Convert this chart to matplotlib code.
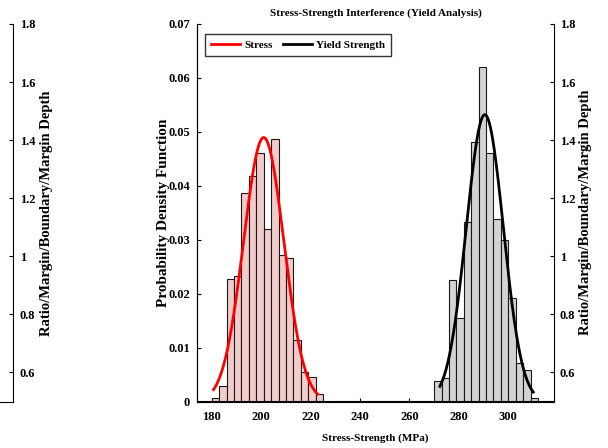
import matplotlib
matplotlib.use("Agg")
import matplotlib.pyplot as plt
import numpy as np

# ── Data ───────────────────────────────────────────────────────────────────
stress_edges = [180, 183, 186, 189, 192, 195, 198, 201, 204, 207, 210, 213, 216, 219, 222, 225]
stress_dens  = [0.0007, 0.0028, 0.0227, 0.0233, 0.0386, 0.0418, 0.0460, 0.0319,
                0.0486, 0.0272, 0.0266, 0.0114, 0.0054, 0.0046, 0.0013]

yield_edges = [270, 273, 276, 279, 282, 285, 288, 291, 294, 297, 300, 303, 306, 309, 312]
yield_dens  = [0.0038, 0.0043, 0.0226, 0.0154, 0.0333, 0.0481, 0.0620,
               0.0461, 0.0339, 0.0299, 0.0192, 0.0071, 0.0059, 0.0006]

# normal fits (mean, std, plotted range)
stress_mu, stress_sd, stress_rng = 201.0, 8.15, (180.7, 222.8)
yield_mu, yield_sd, yield_rng    = 290.5, 7.5, (272.3, 310.1)

x_ticks   = [180, 200, 220, 240, 260, 280, 300]
pdf_ticks = [0, 0.01, 0.02, 0.03, 0.04, 0.05, 0.06, 0.07]
aux_ticks = [0.6, 0.8, 1.0, 1.2, 1.4, 1.6, 1.8]
aux_labels = ["0.6", "0.8", "1", "1.2", "1.4", "1.6", "1.8"]

# ── Style ──────────────────────────────────────────────────────────────────
plt.rcParams["font.family"] = "Liberation Serif"
plt.rcParams["font.weight"] = "bold"
plt.rcParams["axes.titleweight"] = "bold"
plt.rcParams["axes.labelweight"] = "bold"
PINK = "#f2cbcb"
GRAY = "#d3d3d3"
EDGE = "#1a1a1a"
FS_T = 9      # tick labels
FS_H = 8      # horizontal text
FS_V = 11     # rotated labels

fig = plt.figure(figsize=(6.08, 4.48), dpi=100)

L, B, W, H = 197 / 608, 1 - 401.5 / 448, (554 - 197) / 608, (401.5 - 24) / 448
ax = fig.add_axes([L, B, W, H])


def pdf(mu, sd, rng):
    xs = np.linspace(rng[0], rng[1], 300)
    return xs, np.exp(-0.5 * ((xs - mu) / sd) ** 2) / (sd * np.sqrt(2 * np.pi))


ax.bar(stress_edges[:-1], stress_dens, width=np.diff(stress_edges), align="edge",
       color=PINK, edgecolor=EDGE, linewidth=0.8, zorder=2)
ax.bar(yield_edges[:-1], yield_dens, width=np.diff(yield_edges), align="edge",
       color=GRAY, edgecolor=EDGE, linewidth=0.8, zorder=2)

sx, sy = pdf(stress_mu, stress_sd, stress_rng)
yx, yy = pdf(yield_mu, yield_sd, yield_rng)
ax.plot(sx, sy, color="red", linewidth=2, label="Stress", zorder=3)
ax.plot(yx, yy, color="black", linewidth=2, label="Yield Strength", zorder=3)

ax.set_xlim(174, 318.5)
ax.set_ylim(0, 0.07)
ax.set_xticks(x_ticks)
ax.set_xticklabels([str(v) for v in x_ticks], fontsize=FS_T)
ax.set_yticks(pdf_ticks)
ax.set_yticklabels(["0"] + [f"{v:.2f}" for v in pdf_ticks[1:]], fontsize=FS_T)
ax.tick_params(direction="in", length=3, width=0.8)
ax.tick_params(axis="x", pad=7)
ax.tick_params(axis="y", pad=5)
ax.spines["top"].set_visible(False)
ax.spines["right"].set_visible(False)
ax.set_xlabel("Stress-Strength (MPa)", fontsize=FS_H, labelpad=7)
ax.set_ylabel("Probability Density Function", fontsize=FS_V, labelpad=-1)
ax.set_title("Stress-Strength Interference (Yield Analysis)", fontsize=FS_H, pad=6)

ax.legend(loc="upper left", bbox_to_anchor=(0.022, 0.9735), borderaxespad=0,
          ncol=2, fontsize=FS_H, frameon=True, fancybox=False, edgecolor="black",
          handlelength=2.6, columnspacing=0.9, handletextpad=0.4, borderpad=0.55)

# right auxiliary axis
axr = ax.twinx()
axr.set_ylim(0.5, 1.8)
axr.set_yticks(aux_ticks)
axr.set_yticklabels(aux_labels, fontsize=FS_T)
axr.tick_params(direction="in", length=3, width=0.8, pad=4)
axr.spines["top"].set_visible(False)
axr.set_ylabel("Ratio/Margin/Boundary/Margin Depth", fontsize=10.5, labelpad=3)

# left auxiliary axis (spine near the figure edge)
r_edge = 13 / 608
axl = fig.add_axes([-0.1, B, 0.1 + r_edge, H])
axl.set_ylim(0.5, 1.8)
axl.set_xticks([])
axl.yaxis.tick_right()
axl.yaxis.set_label_position("right")
axl.set_yticks(aux_ticks)
axl.set_yticklabels(aux_labels, fontsize=FS_T)
axl.tick_params(direction="in", length=3, width=0.8, pad=5)
axl.spines["top"].set_visible(False)
axl.spines["left"].set_visible(False)
axl.patch.set_alpha(0)
axl.set_ylabel("Ratio/Margin/Boundary/Margin Depth", fontsize=10.5, labelpad=3)

fig.savefig("out.png", dpi=100)
